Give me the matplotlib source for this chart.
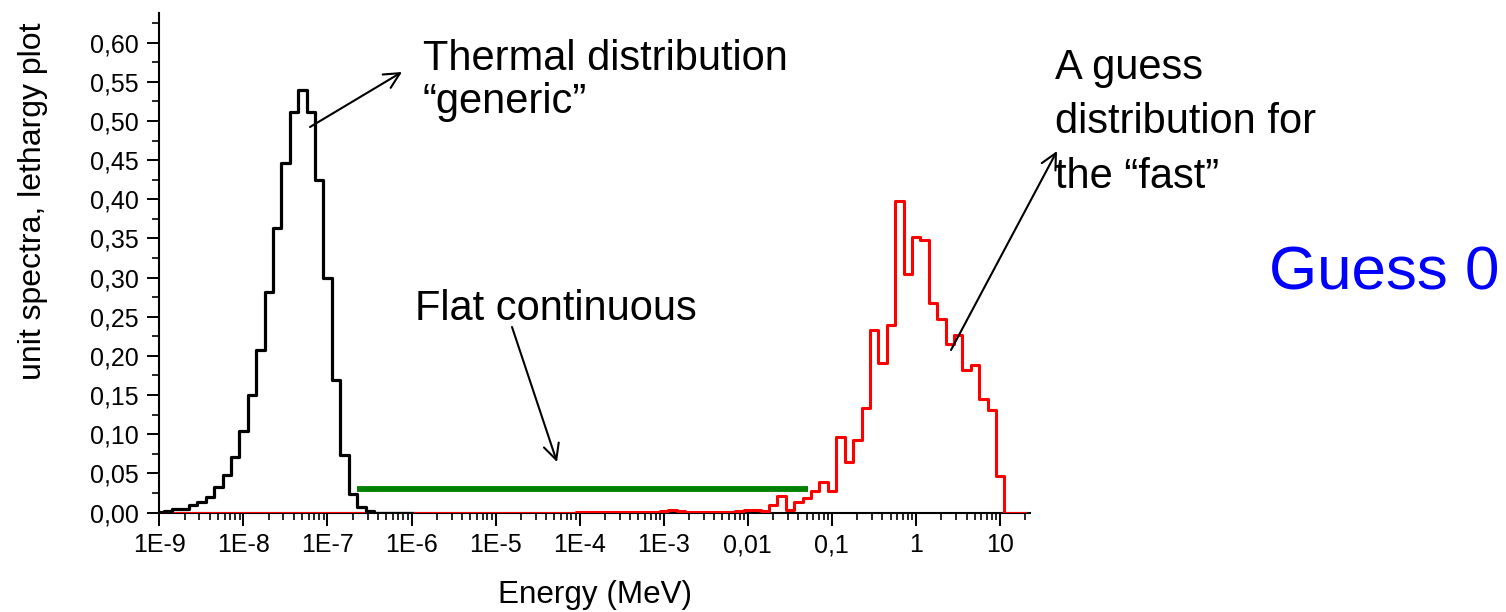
import numpy as np
import matplotlib
matplotlib.use('Agg')
import matplotlib.pyplot as plt
from matplotlib.ticker import FixedLocator, FixedFormatter, MultipleLocator, NullFormatter

plt.rcParams['font.family'] = ['Liberation Sans', 'DejaVu Sans']

# bin centres every 0.1 decade, 1E-9 ... 20 MeV
log_centers = np.round(np.arange(-9.0, 1.31, 0.1), 1)

# thermal "generic" spectrum, bins -9.0 ... -6.0
thermal = [0.001, 0.002, 0.004, 0.005, 0.009, 0.014, 0.020, 0.032, 0.048, 0.071,
           0.104, 0.150, 0.208, 0.282, 0.364, 0.446, 0.512, 0.540, 0.512, 0.425,
           0.299, 0.169, 0.073, 0.024, 0.007, 0.002, 0.0, 0.0, 0.0, 0.0,
           0.0]

# fast guess spectrum, bins -9.0 ... 1.3
fast = [0.0, 0.0, 0.0, 0.0, 0.0, 0.0, 0.0, 0.0, 0.0, 0.0,
        0.0, 0.0, 0.0, 0.0, 0.0, 0.0, 0.0, 0.0, 0.0, 0.0,
        0.0, 0.0, 0.0, 0.0, 0.0, 0.0, 0.0, 0.0, 0.0, 0.0,
        0.0, 0.0, 0.0, 0.0, 0.0, 0.0, 0.0, 0.0, 0.0, 0.0,
        0.0, 0.0, 0.0, 0.0, 0.0, 0.0, 0.0, 0.0, 0.0, 0.0,
        0.001, 0.001, 0.001, 0.001, 0.001, 0.001, 0.001, 0.001, 0.001, 0.001,
        0.002, 0.003, 0.002, 0.001, 0.001, 0.001, 0.001, 0.001, 0.001, 0.002,
        0.003, 0.003, 0.002, 0.010, 0.021, 0.003, 0.013, 0.018, 0.027, 0.039,
        0.027, 0.096, 0.064, 0.092, 0.134, 0.233, 0.191, 0.239, 0.398, 0.305,
        0.352, 0.348, 0.267, 0.247, 0.215, 0.227, 0.182, 0.189, 0.145, 0.131,
        0.046, 0.0, 0.0, 0.0]

# flat continuous guess
flat_e = [2.24e-7, 0.052]
flat_y = [0.030, 0.030]

x_ticks = [1e-9, 1e-8, 1e-7, 1e-6, 1e-5, 1e-4, 1e-3, 1e-2, 1e-1, 1, 10]
x_tick_labels = ['1E-9', '1E-8', '1E-7', '1E-6', '1E-5', '1E-4', '1E-3', '0,01', '0,1', '1', '10']
y_ticks = [0.0, 0.05, 0.10, 0.15, 0.20, 0.25, 0.30, 0.35, 0.40, 0.45, 0.50, 0.55, 0.60]

W, H = 1506, 612


def px(x, y):
    return (x / W, 1 - y / H)


fig = plt.figure(figsize=(W / 100, H / 100), dpi=100)
ax = fig.add_axes([159.3 / W, 1 - 512.5 / H, (1030 - 159.3) / W, (512.5 - 13) / H])

energy = 10.0 ** log_centers
ax.step(energy, fast, where='mid', color='#ff0000', lw=2.2, zorder=3)
ax.step(energy[:len(thermal)], thermal, where='mid', color='black', lw=2.3, zorder=4)
ax.plot(flat_e, flat_y, color='#008000', lw=4.2, solid_capstyle='butt', zorder=5)

ax.set_xscale('log')
ax.set_xlim(1e-9, 10 ** 1.357)
ax.set_ylim(0, 0.638)

ax.xaxis.set_major_locator(FixedLocator(x_ticks))
ax.xaxis.set_major_formatter(FixedFormatter(x_tick_labels))
minor = [m * 10.0 ** k for k in range(-9, 2) for m in range(2, 10)]
ax.xaxis.set_minor_locator(FixedLocator(minor))
ax.xaxis.set_minor_formatter(NullFormatter())

ax.yaxis.set_major_locator(FixedLocator(y_ticks))
ax.yaxis.set_major_formatter(FixedFormatter([f'{v:.2f}'.replace('.', ',') for v in y_ticks]))
ax.yaxis.set_minor_locator(MultipleLocator(0.025))

for s in ['top', 'right']:
    ax.spines[s].set_visible(False)
for s in ['left', 'bottom']:
    ax.spines[s].set_linewidth(1.5)

ax.tick_params(which='major', direction='out', length=9, width=1.4, labelsize=18, pad=6)
ax.tick_params(which='minor', direction='out', length=5, width=1.2)

ax.set_xlabel('Energy (MeV)', fontsize=22.6, va='baseline')
ax.xaxis.set_label_coords(595 / W, 1 - 603 / H, transform=fig.transFigure)
ax.set_ylabel('unit spectra, lethargy plot', fontsize=23, va='center')
ax.yaxis.set_label_coords(33 / W, 1 - 201 / H, transform=fig.transFigure)

# annotations
fs = 30
fig.text(*px(423, 70), 'Thermal distribution', fontsize=fs, va='baseline')
fig.text(*px(423, 113), '\u201cgeneric\u201d', fontsize=fs, va='baseline')
fig.text(*px(415, 320), 'Flat continuous', fontsize=fs, va='baseline')
fig.text(*px(1055, 79), 'A guess', fontsize=fs, va='baseline')
fig.text(*px(1055, 133), 'distribution for', fontsize=fs, va='baseline')
fig.text(*px(1055, 188), 'the \u201cfast\u201d', fontsize=fs, va='baseline')
fig.text(*px(1269, 290), 'Guess 0', fontsize=44.6, color='#0000ff', va='baseline')

arrow = dict(arrowstyle='->', lw=1.5, color='black', mutation_scale=28, shrinkA=0, shrinkB=0)
ax.annotate('', xy=px(402, 72), xytext=px(310, 127), xycoords='figure fraction',
            textcoords='figure fraction', arrowprops=arrow)
ax.annotate('', xy=px(557, 462), xytext=px(512, 327), xycoords='figure fraction',
            textcoords='figure fraction', arrowprops=arrow)
ax.annotate('', xy=px(1057, 151), xytext=px(951, 350), xycoords='figure fraction',
            textcoords='figure fraction', arrowprops=arrow)

fig.savefig('out.png', dpi=100)
